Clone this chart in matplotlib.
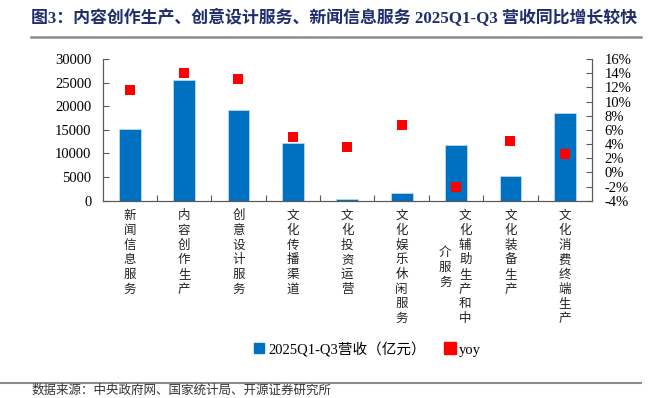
import matplotlib
matplotlib.use('Agg')
import matplotlib.pyplot as plt
from matplotlib.lines import Line2D
import numpy as np

plt.rcParams['font.family'] = ['Liberation Serif', 'Noto Sans CJK SC']
plt.rcParams['axes.unicode_minus'] = False

categories = ['新闻信息服务', '内容创作生产', '创意设计服务', '文化传播渠道', '文化投资运营',
              '文化娱乐休闲服务', '文化辅助生产和中介服务', '文化装备生产', '文化消费终端生产']
revenue = [15100, 25600, 19300, 12300, 420, 1570, 11700, 5170, 18600]
yoy = [11.6, 14.0, 13.2, 5.0, 3.6, 6.7, -2.1, 4.4, 2.6]
left_ticks = [0, 5000, 10000, 15000, 20000, 25000, 30000]
right_ticks = list(range(-4, 17, 2))

bar_color = '#0070C0'
red = '#FF0000'
axis_color = '#595959'

fig = plt.figure(figsize=(6.64, 3.98), dpi=100)
ax = fig.add_axes([0.1544, 0.4957, 0.7372, 0.3561])
ax2 = ax.twinx()

x = np.arange(len(categories))
ax.bar(x, revenue, width=0.4, color=bar_color, edgecolor='#BDD7EE', linewidth=0.6, zorder=2)
ax2.scatter(x, yoy, marker='s', s=42, color=red, zorder=3, linewidths=0)

ax.set_xlim(-0.5, len(categories) - 0.5)
ax.set_ylim(0, 30000)
ax.set_yticks(left_ticks)
ax2.set_ylim(-4, 16)
ax2.set_yticks(right_ticks)
ax2.set_yticklabels([f'{t}%' for t in right_ticks])

ax.set_xticks(np.arange(len(categories) - 1) + 0.5)
ax.set_xticklabels([])
ax.tick_params(axis='x', direction='in', length=4, color=axis_color)
ax.tick_params(axis='y', direction='in', length=4, color=axis_color, labelsize=10.5, pad=8)
ax2.tick_params(axis='y', direction='in', length=4, color=axis_color, labelsize=10.5, pad=9)

for a in (ax, ax2):
    a.spines['top'].set_visible(False)
    for s in ('left', 'right', 'bottom'):
        a.spines[s].set_color(axis_color)
        a.spines[s].set_linewidth(0.8)

# vertical category labels
lab_kw = dict(ha='center', va='top', fontsize=9, linespacing=1.17,
              family=['Noto Sans CJK SC'], color='#222222')
for i, name in enumerate(categories):
    if len(name) > 8:
        ax.text(i + 0.17, -0.06, '\n'.join(name[:8]), transform=ax.get_xaxis_transform(), **lab_kw)
        ax.text(i - 0.2, -0.32, '\n'.join(name[8:]), transform=ax.get_xaxis_transform(), **lab_kw)
    else:
        ax.text(i, -0.06, '\n'.join(name), transform=ax.get_xaxis_transform(), **lab_kw)

# legend
handles = [Line2D([], [], marker='s', ls='none', color=bar_color, markersize=7),
           Line2D([], [], marker='s', ls='none', color=red, markersize=8)]
fig.legend(handles, ['2025Q1-Q3营收（亿元）', 'yoy'], loc='center', bbox_to_anchor=(0.553, 0.123),
           ncol=2, frameon=False, fontsize=10.5, handletextpad=0.2, columnspacing=1.3,
           handlelength=0.8)

# title and source
fig.text(0.047, 0.955, '图3：内容创作生产、创意设计服务、新闻信息服务 2025Q1-Q3 营收同比增长较快',
         ha='left', va='center', fontsize=12.2, fontweight='bold', color='#1F2D6B')
fig.add_artist(Line2D([0.047, 0.965], [0.907, 0.907], color='#8C8C8C', lw=1.8))
fig.add_artist(Line2D([0.0, 0.965], [0.038, 0.038], color='#8C8C8C', lw=1.5))
fig.text(0.047, 0.004, '数据来源：中央政府网、国家统计局、开源证券研究所',
         ha='left', va='bottom', fontsize=9, color='#333333')

fig.savefig('out.png', dpi=100)
